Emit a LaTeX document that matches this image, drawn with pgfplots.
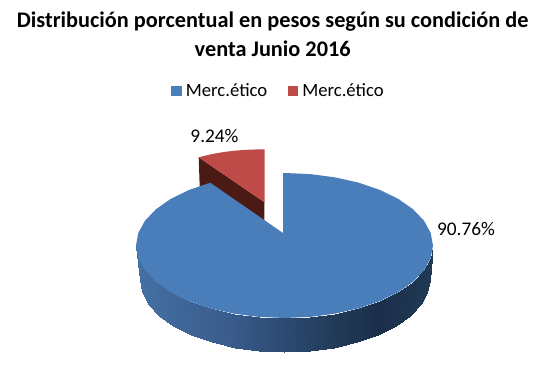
\documentclass[border=0pt]{standalone}
\usepackage{pgfplots}
\pgfplotsset{compat=1.18}
\usepackage{fontspec}
\setmainfont{Carlito}
\definecolor{pieblue}{RGB}{74,126,187}
\definecolor{piered}{RGB}{190,75,72}
\definecolor{piedark}{RGB}{76,26,20}
\pgfplotstableread{
x y m
433.0 245.5 433
430.7 258.1 431
424.0 270.3 424
413.1 281.8 413
398.3 292.1 398
380.0 301.0 380
358.8 308.3 359
335.3 313.6 335
310.3 316.9 310
284.5 318.0 285
258.7 316.9 259
233.7 313.6 234
210.2 308.3 210
189.0 301.0 189
170.7 292.1 171
155.9 281.8 156
145.0 270.3 145
138.3 258.1 138
136.0 245.5 136
429.5 279.5 433
427.3 292.1 431
420.8 304.3 424
410.1 315.8 413
395.6 326.1 398
377.7 335.0 380
357.0 342.3 359
334.1 347.6 335
309.7 350.9 310
284.5 352.0 285
259.3 350.9 259
234.9 347.6 234
212.0 342.3 210
191.3 335.0 189
173.4 326.1 171
158.9 315.8 156
148.2 304.3 145
141.7 292.1 138
139.5 279.5 136
}\sidetable
\begin{document}
\begin{tikzpicture}
\useasboundingbox (0,0) rectangle (539pt,370pt);
\begin{axis}[
  at={(0,0)},anchor=south west,
  scale only axis,width=539pt,height=370pt,
  xmin=0,xmax=539,ymin=0,ymax=370,y dir=reverse,
  axis lines=none,clip=false,
  colormap={side}{rgb255(0pt)=(68,112,164); rgb255(27pt)=(66,106,156); rgb255(94pt)=(58,92,140); rgb255(144pt)=(45,75,115); rgb255(194pt)=(35,60,90); rgb255(244pt)=(27,47,75); rgb255(297pt)=(32,58,85)},
  point meta min=136,point meta max=433,
  legend columns=2,
  legend style={at={(axis cs:171,90.8)},anchor=west,draw=none,fill=none,font=\fontsize{18.7}{22}\selectfont,
    /tikz/every even column/.append style={column sep=18.3pt},inner sep=0pt,row sep=0pt},
  legend image code/.code={\fill[#1] (0pt,-5.1pt) rectangle (10.7pt,5.1pt);\path (12.7pt,0pt);},
]
\addplot[surf,shader=interp,mesh/rows=2,point meta=explicit,forget plot] table[x=x,y=y,meta=m] {\sidetable};
% exploded slice: cut face
\addplot[fill=piedark,draw=none,forget plot] coordinates {(198.7,157.3)(264.5,202.3)(264.3,221.5)(210,185)(199.7,186.5)} --cycle;
% main slice, top face
\addplot[fill=pieblue,draw=none] coordinates {
(283,173)(284.5,173)(310.3,174.1)(335.3,177.4)(358.8,182.7)(380.0,190.0)(398.3,198.9)(413.1,209.3)(424.0,220.7)(430.7,232.9)
(433,245.5)(430.7,258.1)(424.0,270.3)(413.1,281.8)(398.3,292.1)(380.0,301.0)(358.8,308.3)(335.3,313.6)(310.3,316.9)
(284.5,318)(258.7,316.9)(233.7,313.6)(210.2,308.3)(189.0,301.0)(170.7,292.1)(155.9,281.8)(145.0,270.3)(138.3,258.1)
(136,245.5)(138.3,232.9)(145.0,220.7)(155.9,209.3)(170.7,198.9)(189.0,190.0)(210.2,182.7)(283,233)} --cycle;
\addlegendentry{Merc.ético}
% small slice, top face
\addplot[fill=piered,draw=none] coordinates {(198.7,157.3)(210,154.5)(222,152.3)(235,150.6)(250,149.6)(264.7,149.3)(264.5,202.3)} --cycle;
\addlegendentry{Merc.ético}
\node[font=\fontsize{22.3}{28.5}\selectfont\bfseries,align=center,anchor=center] at (axis cs:272.7,34.5) {Distribución porcentual en pesos según su condición de\\venta Junio 2016};
\node[font=\fontsize{19.3}{22}\selectfont,anchor=center] at (axis cs:214.5,136) {9.24\%};
\node[font=\fontsize{19.3}{22}\selectfont,anchor=center] at (axis cs:466,229) {90.76\%};
\end{axis}
\end{tikzpicture}
\end{document}
